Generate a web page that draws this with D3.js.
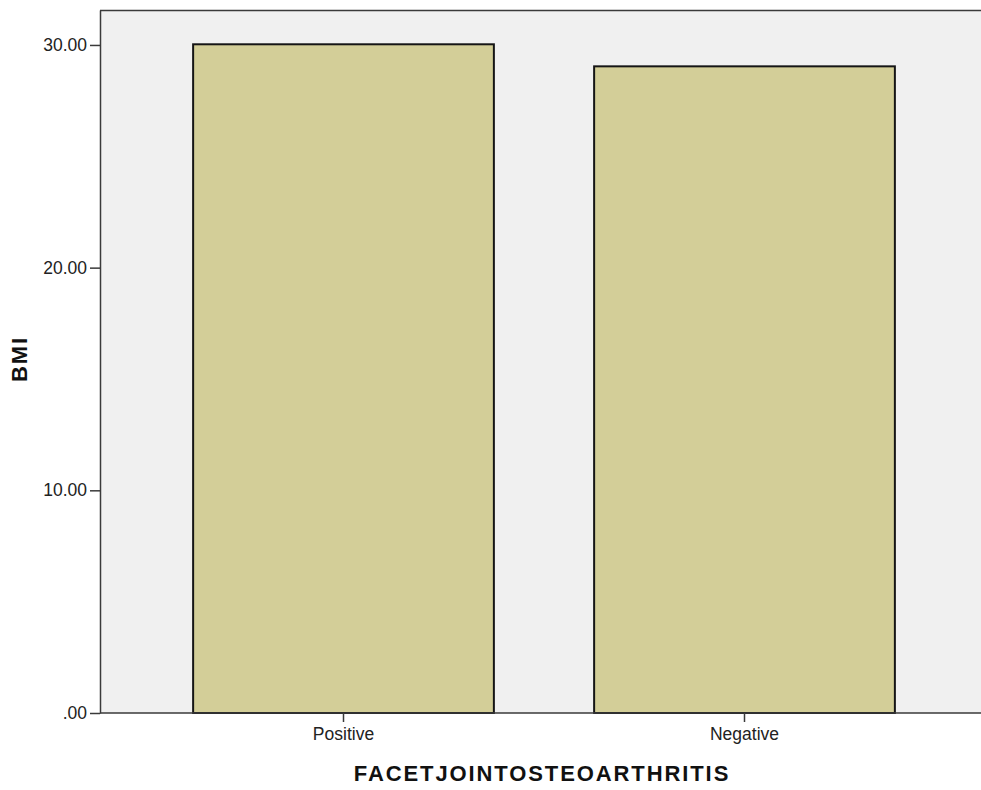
<!DOCTYPE html>
<html>
<head>
<meta charset="utf-8">
<script src="https://cdn.jsdelivr.net/npm/d3@7"></script>
<style>
  html, body { margin: 0; padding: 0; background: #ffffff; }
  svg { display: block; font-family: Arial, "Liberation Sans", Helvetica, sans-serif; }
</style>
</head>
<body>
<svg id="chart" width="981" height="790"></svg>
<script>
const categories = ["Positive", "Negative"];
const values = [30.03, 29.04];
const yTicks = [0, 10, 20, 30];
const yTickLabels = [".00", "10.00", "20.00", "30.00"];
const xTitle = "FACETJOINTOSTEOARTHRITIS";
const yTitle = "BMI";

const svg = d3.select("#chart");
const plot = { left: 100, right: 981, top: 10, bottom: 713 };

const x = d3.scaleBand()
  .domain(categories)
  .range([143, 945])
  .paddingInner(0.25)
  .paddingOuter(0.125);

const y = d3.scaleLinear()
  .domain([0, 31.57])
  .range([plot.bottom, plot.top]);

// background
svg.append("rect")
  .attr("x", plot.left).attr("y", plot.top)
  .attr("width", plot.right - plot.left)
  .attr("height", plot.bottom - plot.top)
  .attr("fill", "#f0f0f0");

// top frame line
svg.append("line")
  .attr("x1", plot.left).attr("x2", plot.right)
  .attr("y1", plot.top + 0.5).attr("y2", plot.top + 0.5)
  .attr("stroke", "#3a3a3a").attr("stroke-width", 1.5);

// bars
svg.selectAll("rect.bar")
  .data(categories)
  .enter().append("rect")
  .attr("class", "bar")
  .attr("x", d => x(d))
  .attr("y", (d, i) => y(values[i]))
  .attr("width", x.bandwidth())
  .attr("height", (d, i) => y(0) - y(values[i]))
  .attr("fill", "#d3ce98")
  .attr("stroke", "#151515")
  .attr("stroke-width", 2);

// y axis
const yAxis = d3.axisLeft(y)
  .tickValues(yTicks)
  .tickFormat((d, i) => yTickLabels[i])
  .tickSizeInner(10)
  .tickSizeOuter(0)
  .tickPadding(3);

const gy = svg.append("g")
  .attr("transform", `translate(${plot.left},0)`)
  .call(yAxis);
gy.select(".domain").attr("stroke", "#3a3a3a").attr("stroke-width", 1.5);
gy.selectAll(".tick line").attr("stroke", "#3a3a3a").attr("stroke-width", 1.5);
gy.selectAll(".tick text")
  .attr("fill", "#222")
  .style("font-size", "17.5px")
  .style("font-family", "Arial, 'Liberation Sans', sans-serif");

// x axis
const xAxis = d3.axisBottom(x)
  .tickSizeInner(9)
  .tickSizeOuter(0)
  .tickPadding(6);

const gx = svg.append("g")
  .attr("transform", `translate(0,${plot.bottom})`)
  .call(xAxis);
gx.select(".domain")
  .attr("d", `M${plot.left},0H${plot.right}`)
  .attr("stroke", "#3a3a3a").attr("stroke-width", 1.5);
gx.selectAll(".tick line").attr("stroke", "#3a3a3a").attr("stroke-width", 1.5);
gx.selectAll(".tick text")
  .attr("fill", "#222")
  .style("font-size", "17.5px")
  .style("font-family", "Arial, 'Liberation Sans', sans-serif");

// x title
svg.append("text")
  .attr("x", 542)
  .attr("y", 781)
  .attr("text-anchor", "middle")
  .attr("fill", "#111")
  .style("font-size", "22px")
  .style("font-weight", "bold")
  .style("letter-spacing", "1.9px")
  .text(xTitle);

// y title
svg.append("text")
  .attr("transform", "translate(27,359) rotate(-90)")
  .attr("text-anchor", "middle")
  .attr("fill", "#111")
  .style("font-size", "22px")
  .style("font-weight", "bold")
  .style("letter-spacing", "1.9px")
  .text(yTitle);
</script>
</body>
</html>
